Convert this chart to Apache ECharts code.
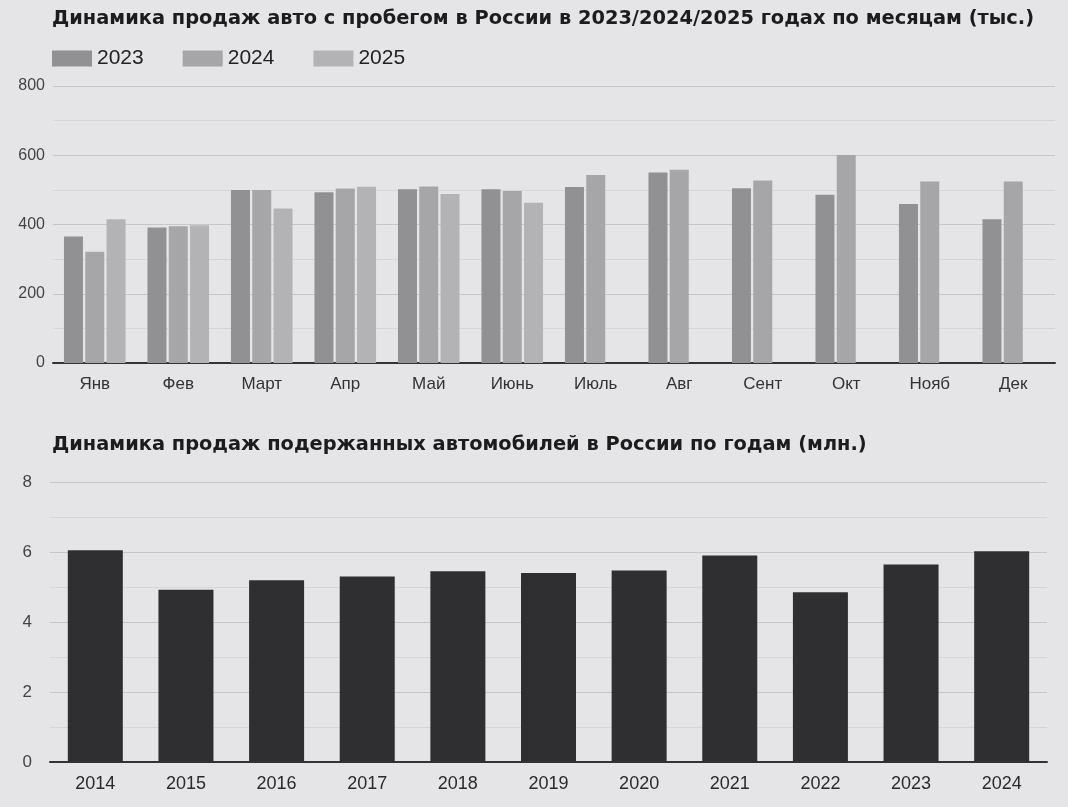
<!DOCTYPE html>
<html>
<head>
<meta charset="utf-8">
<script src="https://cdn.jsdelivr.net/npm/echarts@6/dist/echarts.min.js"></script>
<style>
html,body{margin:0;padding:0;background:#e5e5e7;}
#chart{width:1068px;height:807px;}
</style>
</head>
<body>
<div id="chart"></div>
<script>
const months = ['Янв','Фев','Март','Апр','Май','Июнь','Июль','Авг','Сент','Окт','Нояб','Дек'];
const sales2023 = [365, 391, 500, 493, 502, 502, 508, 550, 505, 486, 459, 415];
const sales2024 = [321, 395, 500, 504, 510, 497, 543, 558, 527, 601, 524, 524];
const sales2025 = [415, 398, 446, 509, 488, 463, null, null, null, null, null, null];
const monthTicks = [0, 200, 400, 600, 800];

const years = ['2014','2015','2016','2017','2018','2019','2020','2021','2022','2023','2024'];
const usedSales = [6.05, 4.92, 5.19, 5.30, 5.45, 5.40, 5.47, 5.90, 4.85, 5.64, 6.02];
const yearTicks = [0, 2, 4, 6, 8];

const FONT = 'Liberation Sans, Arial, sans-serif';
const TFONT = 'DejaVu Sans, Liberation Sans, sans-serif';
const chart = echarts.init(document.getElementById('chart'), null, {renderer:'canvas'});

const gridLine = {show:true, lineStyle:{color:'#c6c6c8', width:1}};
const minorLine = {show:true, lineStyle:{color:'#d6d6d8', width:1}};

chart.setOption({
  backgroundColor:'#e5e5e7',
  animation:false,
  textStyle:{fontFamily:FONT},
  title:[
    {text:'Динамика продаж авто с пробегом в России в 2023/2024/2025 годах по месяцам (тыс.)',
     left:47, top:4, textStyle:{fontFamily:TFONT, fontSize:19.4, fontWeight:'bold', color:'#1c1c1c'}},
    {text:'Динамика продаж подержанных автомобилей в России по годам (млн.)',
     left:47, top:430, textStyle:{fontFamily:TFONT, fontSize:19.4, fontWeight:'bold', color:'#1c1c1c'}}
  ],
  legend:{
    left:47, top:43, icon:'rect', itemWidth:40, itemHeight:16, itemGap:39,
    textStyle:{fontFamily:FONT, fontSize:21, color:'#222'},
    data:['2023','2024','2025']
  },
  grid:[
    {left:53, right:13, top:86, bottom:444},
    {left:50, right:21, top:482, bottom:45}
  ],
  xAxis:[
    {type:'category', gridIndex:0, data:months,
     axisLine:{show:true, lineStyle:{color:'#333', width:2}},
     axisTick:{show:false},
     axisLabel:{fontFamily:FONT, fontSize:17, color:'#333', margin:13}},
    {type:'category', gridIndex:1, data:years,
     axisLine:{show:true, lineStyle:{color:'#333', width:2}},
     axisTick:{show:false},
     axisLabel:{fontFamily:FONT, fontSize:18, color:'#2a2a2a', margin:13}}
  ],
  yAxis:[
    {type:'value', gridIndex:0, min:monthTicks[0], max:monthTicks[monthTicks.length-1], interval:200,
     axisLine:{show:false}, axisTick:{show:false},
     splitLine:gridLine,
     minorTick:{show:false, splitNumber:2}, minorSplitLine:minorLine,
     axisLabel:{fontFamily:FONT, fontSize:16, color:'#444', margin:8}},
    {type:'value', gridIndex:1, min:yearTicks[0], max:yearTicks[yearTicks.length-1], interval:2,
     axisLine:{show:false}, axisTick:{show:false},
     splitLine:gridLine,
     minorTick:{show:false, splitNumber:2}, minorSplitLine:minorLine,
     axisLabel:{fontFamily:FONT, fontSize:17, color:'#444', margin:18}}
  ],
  series:[
    {name:'2023', type:'bar', xAxisIndex:0, yAxisIndex:0, data:sales2023, barWidth:19, barGap:'12%',
     itemStyle:{color:'#919193'}},
    {name:'2024', type:'bar', xAxisIndex:0, yAxisIndex:0, data:sales2024, barWidth:19, barGap:'12%',
     itemStyle:{color:'#a6a6a8'}},
    {name:'2025', type:'bar', xAxisIndex:0, yAxisIndex:0, data:sales2025, barWidth:19, barGap:'12%',
     itemStyle:{color:'#b3b3b5'}},
    {name:'used', type:'bar', xAxisIndex:1, yAxisIndex:1, data:usedSales, barWidth:55,
     itemStyle:{color:'#2f2f31'}}
  ]
});
</script>
</body>
</html>
